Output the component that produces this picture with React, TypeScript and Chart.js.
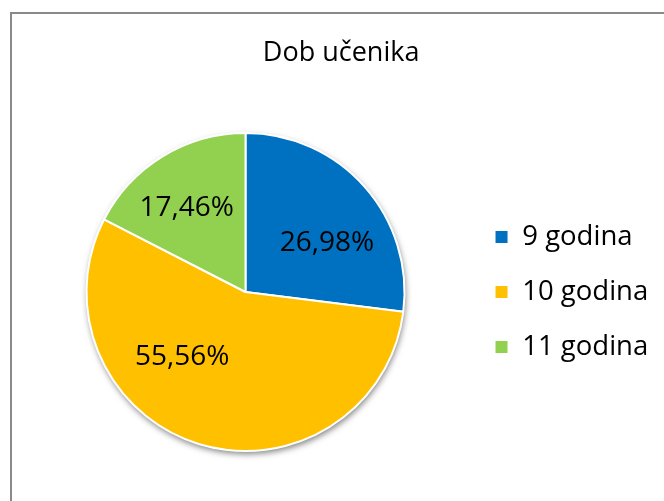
import React, { useEffect, useRef } from 'react';
import { Chart, registerables } from 'chart.js';

Chart.register(...registerables);

// ---- data ----
const titleText = 'Dob učenika';
const categories = ['9 godina', '10 godina', '11 godina'];
const counts = [17, 35, 11];
const sliceColors = ['#0070C0', '#FFC000', '#92D050'];

// ---- label placement (relative to each slice's own geometry) ----
const labelAngleShiftDeg = [10.6, 27.1, -3.4];
const labelRadiusFrac = [0.596, 0.57, 0.647];

const FONT = "'Open Sans', 'Noto Sans', sans-serif";
const CANVAS_W = 680;
const CANVAS_H = 520;

const formatPct = (v: number, total: number) =>
  (Math.round((v / total) * 10000) / 100).toFixed(2).replace('.', ',') + '%';

const framePlugin = {
  id: 'frame',
  beforeDraw(chart: any) {
    const ctx = chart.ctx;
    ctx.save();
    ctx.fillStyle = '#ffffff';
    ctx.fillRect(0, 0, chart.width, chart.height);
    ctx.strokeStyle = '#8a8a8a';
    ctx.lineWidth = 2;
    ctx.strokeRect(11, 13, 2000, 2000);
    ctx.restore();
  },
};

const shadowPlugin = {
  id: 'pieShadow',
  beforeDatasetsDraw(chart: any) {
    const meta = chart.getDatasetMeta(0);
    const arc = meta.data[0];
    if (!arc) return;
    const { x, y, outerRadius } = arc.getProps(['x', 'y', 'outerRadius'], true);
    const ctx = chart.ctx;
    ctx.save();
    ctx.shadowColor = 'rgba(0,0,0,0.5)';
    ctx.shadowBlur = 6;
    ctx.shadowOffsetX = 1;
    ctx.shadowOffsetY = 3;
    ctx.fillStyle = '#ffffff';
    ctx.beginPath();
    ctx.arc(x, y, outerRadius, 0, Math.PI * 2);
    ctx.fill();
    ctx.restore();
  },
};

const sliceLabelPlugin = {
  id: 'sliceLabels',
  afterDatasetsDraw(chart: any) {
    const meta = chart.getDatasetMeta(0);
    const data = chart.data.datasets[0].data as number[];
    const total = data.reduce((a, b) => a + b, 0);
    const ctx = chart.ctx;
    ctx.save();
    ctx.font = `28px ${FONT}`;
    ctx.fillStyle = '#000000';
    ctx.textAlign = 'center';
    ctx.textBaseline = 'middle';
    meta.data.forEach((arc: any, i: number) => {
      const { x, y, startAngle, endAngle, outerRadius } = arc.getProps(
        ['x', 'y', 'startAngle', 'endAngle', 'outerRadius'],
        true
      );
      const mid = (startAngle + endAngle) / 2 + (labelAngleShiftDeg[i] * Math.PI) / 180;
      const r = outerRadius * labelRadiusFrac[i];
      ctx.fillText(formatPct(data[i], total), x + Math.cos(mid) * r, y + Math.sin(mid) * r);
    });
    ctx.restore();
  },
};

export default function App() {
  const canvasRef = useRef<HTMLCanvasElement | null>(null);

  useEffect(() => {
    if (!canvasRef.current) return;
    const chart = new Chart(canvasRef.current, {
      type: 'pie',
      data: {
        labels: categories,
        datasets: [
          {
            data: counts,
            backgroundColor: sliceColors,
            borderColor: '#ffffff',
            borderWidth: 2,
            radius: 159,
          } as any,
        ],
      },
      options: {
        responsive: false,
        animation: false,
        devicePixelRatio: 1,
        layout: {
          padding: { top: 12, left: 24, right: 21.75, bottom: 15.4 },
        },
        plugins: {
          title: {
            display: true,
            text: titleText,
            color: '#000000',
            font: { family: FONT, size: 27, weight: 'normal' as any },
            padding: { top: 25, bottom: 10 },
          },
          legend: {
            display: true,
            position: 'right',
            fullSize: false,
            labels: {
              color: '#000000',
              font: { family: FONT, size: 27.5 },
              boxWidth: 14,
              boxHeight: 14,
              padding: 27.5,
            },
          },
          tooltip: { enabled: false },
        },
      },
      plugins: [framePlugin, shadowPlugin, sliceLabelPlugin],
    });
    return () => chart.destroy();
  }, []);

  return (
    <div
      style={{
        position: 'fixed',
        left: 0,
        top: 0,
        width: 664,
        height: 501,
        overflow: 'hidden',
        background: '#ffffff',
      }}
    >
      <canvas
        ref={canvasRef}
        width={CANVAS_W}
        height={CANVAS_H}
        style={{ display: 'block', width: CANVAS_W, height: CANVAS_H }}
      />
    </div>
  );
}
